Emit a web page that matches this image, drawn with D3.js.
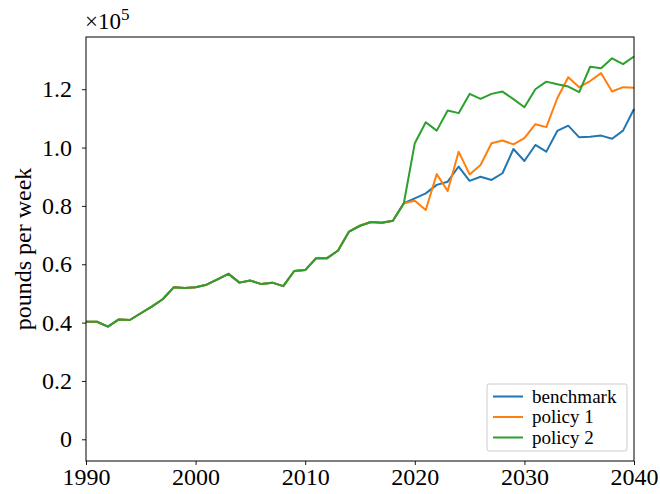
<!DOCTYPE html>
<html>
<head>
<meta charset="utf-8">
<script src="https://cdn.jsdelivr.net/npm/d3@7"></script>
<style>
  body { margin: 0; background: #fff; }
  text { font-family: "Liberation Serif", "DejaVu Serif", serif; }
</style>
</head>
<body>
<script>
// shared history 1990-2019, pounds per week
const historyYears = d3.range(1990, 2020);
const history = [40300, 40300, 38600, 41100, 40900, 43200, 45500, 48000, 52100, 51900,
                 52100, 53000, 54800, 56700, 53700, 54400, 53200, 53700, 52500, 57700,
                 58000, 62100, 62100, 64700, 71200, 73200, 74500, 74200, 74900, 80900];

// projections 2020-2040
const projYears = d3.range(2020, 2041);
const benchmark = [82600, 84300, 87200, 88300, 93500, 88600, 90000, 88900, 91200, 99500,
                   95400, 100900, 98600, 105700, 107500, 103500, 103700, 104100, 103000, 105800, 113200];
const policy1 = [81800, 78600, 90900, 85100, 98600, 90800, 94000, 101500, 102400, 101100,
                 103200, 108000, 107000, 116900, 124100, 120700, 122800, 125500, 119200, 120700, 120500];
const policy2 = [101500, 108700, 105800, 112700, 111800, 118400, 116700, 118400, 119200, 116600,
                 113800, 120000, 122600, 121700, 120900, 119000, 127700, 127200, 130600, 128600, 131200];

const seriesNames = ["benchmark", "policy 1", "policy 2"];
const seriesColors = ["#1f77b4", "#ff7f0e", "#2ca02c"];
const seriesValues = [benchmark, policy1, policy2];

const width = 660, height = 494;
const margin = {left: 86, right: 26, top: 37, bottom: 33};

const x = d3.scaleLinear().domain([1990, 2040]).range([margin.left, width - margin.right]);
const y = d3.scaleLinear().domain([-7440, 137900]).range([height - margin.bottom, margin.top]);

const svg = d3.select('body').append('svg')
    .attr('width', width)
    .attr('height', height);

const line = d3.line()
    .x(d => x(d[0]))
    .y(d => y(d[1]));

// each series = history + its projection
seriesValues.forEach((vals, i) => {
    const pts = historyYears.map((yr, j) => [yr, history[j]])
        .concat(projYears.map((yr, j) => [yr, vals[j]]));
    svg.append('path')
        .datum(pts)
        .attr('d', line)
        .attr('fill', 'none')
        .attr('stroke', seriesColors[i])
        .attr('stroke-width', 2)
        .attr('stroke-linejoin', 'round');
});

// axes
const xAxis = d3.axisBottom(x).tickValues(d3.range(1990, 2041, 10))
    .tickFormat(d3.format('d')).tickSize(4).tickPadding(3);
const yAxis = d3.axisLeft(y).tickValues(d3.range(0, 120001, 20000))
    .tickFormat(d => d === 0 ? '0' : d3.format('.1f')(d / 1e5)).tickSize(4).tickPadding(10);

const gx = svg.append('g')
    .attr('transform', `translate(0,${height - margin.bottom})`)
    .call(xAxis);
const gy = svg.append('g')
    .attr('transform', `translate(${margin.left},0)`)
    .call(yAxis);

[gx, gy].forEach(g => {
    g.attr('font-size', null).attr('font-family', null);
    g.select('.domain').remove();
    g.selectAll('line').attr('stroke', '#000').attr('stroke-width', 0.9);
    g.selectAll('text').attr('fill', '#000')
        .style('font-size', '24px')
        .style('font-family', '"Liberation Serif", serif');
});

// frame
svg.append('rect')
    .attr('x', margin.left)
    .attr('y', margin.top)
    .attr('width', width - margin.left - margin.right)
    .attr('height', height - margin.top - margin.bottom)
    .attr('fill', 'none')
    .attr('stroke', '#000')
    .attr('stroke-width', 1);

// multiplier
const mult = svg.append('text')
    .attr('x', margin.left - 1)
    .attr('y', 29)
    .style('font-size', '23px');
mult.append('tspan').text('×10');
mult.append('tspan').style('font-size', '17px').attr('dy', -9).text('5');

// y label
svg.append('text')
    .attr('transform', `translate(31,${(margin.top + height - margin.bottom) / 2}) rotate(-90)`)
    .attr('text-anchor', 'middle')
    .style('font-size', '24px')
    .text('pounds per week');

// legend
const lg = svg.append('g').attr('transform', 'translate(487,384)');
lg.append('rect')
    .attr('width', 140).attr('height', 67)
    .attr('rx', 2)
    .attr('fill', '#fff').attr('fill-opacity', 0.8)
    .attr('stroke', '#ccc');
seriesNames.forEach((name, i) => {
    const row = lg.append('g').attr('transform', `translate(0,${12.5 + i * 20.5})`);
    row.append('line')
        .attr('x1', 6).attr('x2', 36)
        .attr('stroke', seriesColors[i]).attr('stroke-width', 2);
    row.append('text')
        .attr('x', 45).attr('dy', '0.33em')
        .style('font-size', '19px')
        .text(name);
});
</script>
</body>
</html>
